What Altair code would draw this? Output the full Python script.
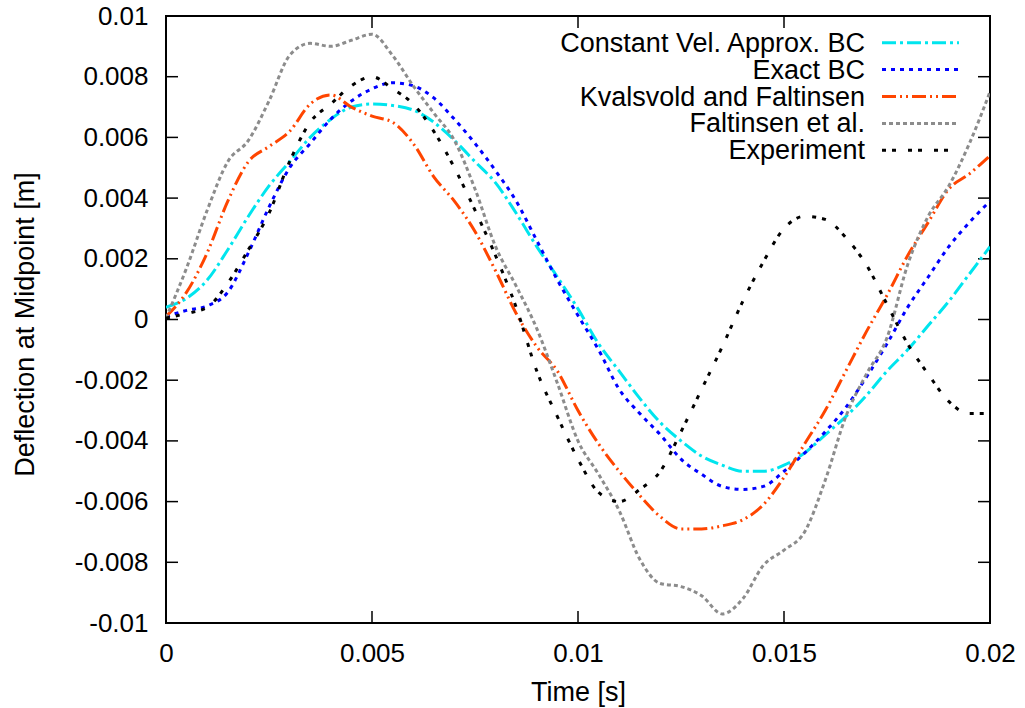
import altair as alt
import pandas as pd

# ---------------- data ----------------
time_s = [0.0, 0.0005, 0.001, 0.0015, 0.002, 0.0025, 0.003, 0.0035, 0.004, 0.0045,
          0.005, 0.0055, 0.006, 0.0065, 0.007, 0.0075, 0.008, 0.0085, 0.009, 0.0095,
          0.01, 0.0105, 0.011, 0.0115, 0.012, 0.0125, 0.013, 0.0135, 0.014, 0.0145,
          0.015, 0.0155, 0.016, 0.0165, 0.017, 0.0175, 0.018, 0.0185, 0.019, 0.0195, 0.02]

const_vel = [0.0004, 0.0007, 0.0013, 0.0023, 0.0034, 0.0044, 0.0052, 0.0060, 0.0066, 0.0070,
             0.0071, 0.00705, 0.0069, 0.0065, 0.0059, 0.0052, 0.0045, 0.0035, 0.0024, 0.0014,
             0.00035, -0.0008, -0.0017, -0.0026, -0.0034, -0.0040, -0.0045, -0.0048, -0.0050, -0.0050,
             -0.0048, -0.0044, -0.0038, -0.0032, -0.0025, -0.0017, -0.0010, -0.0002, 0.0006, 0.0015, 0.0024]

exact_bc = [0.0001, 0.0003, 0.00045, 0.0009, 0.0022, 0.0037, 0.0050, 0.0058, 0.0066, 0.0072,
            0.0076, 0.0078, 0.0077, 0.0073, 0.0066, 0.0058, 0.0049, 0.0039, 0.0026, 0.0013,
            0.00013, -0.0010, -0.0023, -0.0031, -0.0038, -0.0046, -0.0051, -0.0055, -0.0056, -0.0055,
            -0.0050, -0.0044, -0.0037, -0.0029, -0.0019, -0.0008, 0.0004, 0.0014, 0.0024, 0.0032, 0.0039]

kvalsvold = [0.0001, 0.0009, 0.0022, 0.0039, 0.0052, 0.0057, 0.0062, 0.0071, 0.0074, 0.0070,
             0.0067, 0.0065, 0.0058, 0.0047, 0.0039, 0.0029, 0.0016, 0.0002, -0.0009, -0.0017,
             -0.0030, -0.0041, -0.0050, -0.0058, -0.0065, -0.0069, -0.0069, -0.0068, -0.0066, -0.0061,
             -0.0052, -0.0041, -0.0030, -0.0017, -0.0004, 0.0008, 0.0021, 0.0032, 0.0043, 0.0048, 0.0054]

faltinsen = [0.00005, 0.0017, 0.0036, 0.0052, 0.0059, 0.0072, 0.0087, 0.0091, 0.0090, 0.0092,
             0.0094, 0.0087, 0.0077, 0.0068, 0.0059, 0.0043, 0.0024, 0.0011, -0.0003, -0.0021,
             -0.0040, -0.0051, -0.0063, -0.0079, -0.0087, -0.0088, -0.0091, -0.0097, -0.0092, -0.0081,
             -0.0076, -0.0070, -0.0053, -0.0032, -0.0018, -0.0006, 0.0018, 0.0034, 0.0044, 0.0058, 0.0075]

experiment = [0.00005, 0.0002, 0.0004, 0.0012, 0.0023, 0.0035, 0.0052, 0.0065, 0.0071, 0.0077,
              0.0080, 0.0076, 0.0071, 0.0062, 0.0050, 0.0036, 0.0021, 0.0004, -0.0017, -0.0032,
              -0.0046, -0.0057, -0.0060, -0.0056, -0.0050, -0.0037, -0.0023, -0.0009, 0.0006, 0.0019,
              0.0030, 0.0034, 0.0033, 0.0027, 0.0018, 0.0005, -0.0008, -0.0018, -0.0027, -0.0031, -0.0031]

series_names = ["Constant Vel. Approx. BC", "Exact BC", "Kvalsvold and Faltinsen",
                "Faltinsen et al.", "Experiment"]
series_values = [const_vel, exact_bc, kvalsvold, faltinsen, experiment]

x_ticks = [0, 0.005, 0.01, 0.015, 0.02]
y_ticks = [-0.01, -0.008, -0.006, -0.004, -0.002, 0, 0.002, 0.004, 0.006, 0.008, 0.01]

# ---------------- styling ----------------
colors = ["#00e5ee", "#0000ff", "#ff4500", "#8c8c8c", "#000000"]
dashes = [[14, 4, 3, 4], [4, 5], [14, 4, 2, 4, 2, 4], [4, 3], [4, 6, 4, 12]]

W, H = 824, 607
FONT = "Liberation Sans"
FS = 26          # tick labels
FS_T = 27        # titles and key
TICK = 12

xscale = alt.Scale(domain=[0, 0.02], nice=False, zero=False)
yscale = alt.Scale(domain=[-0.01, 0.01], nice=False, zero=False)
label_expr = "datum.value == 0 ? '0' : toString(round(datum.value * 1000) / 1000)"

xaxis = alt.Axis(values=x_ticks, labelExpr=label_expr, title="Time [s]", grid=False,
                 ticks=False, tickSize=0, domain=False, labelFlush=False, labelOverlap=False,
                 labelFont=FONT, labelFontSize=FS, labelColor="black", labelPadding=17,
                 titleFont=FONT, titleFontSize=FS_T, titleFontWeight="normal", titleColor="black",
                 titleBaseline="alphabetic", titleY=77)
yaxis = alt.Axis(values=y_ticks, labelExpr=label_expr, title="Deflection at Midpoint [m]",
                 grid=False, ticks=False, tickSize=0, domain=False, labelFlush=False,
                 labelOverlap=False, labelFont=FONT, labelFontSize=FS, labelColor="black",
                 labelPadding=18, titleFont=FONT, titleFontSize=FS_T, titleFontWeight="normal",
                 titleColor="black", titleBaseline="alphabetic", titleAngle=270,
                 titleX=-133, titleY=308)

layers = []

# inward ticks on all four sides
xt = pd.DataFrame({"t": x_ticks})
yt = pd.DataFrame({"v": y_ticks})
for y_a, y_b in [(H, H - TICK), (0, TICK)]:
    layers.append(alt.Chart(xt).mark_rule(color="black", strokeWidth=1.5).encode(
        x=alt.X("t:Q", scale=xscale, axis=xaxis), y=alt.value(y_a), y2=alt.value(y_b)))
for x_a, x_b in [(0, TICK), (W, W - TICK)]:
    layers.append(alt.Chart(yt).mark_rule(color="black", strokeWidth=1.5).encode(
        y=alt.Y("v:Q", scale=yscale, axis=yaxis), x=alt.value(x_a), x2=alt.value(x_b)))

# data lines
for name, vals, col, dash in zip(series_names, series_values, colors, dashes):
    d = pd.DataFrame({"t": time_s, "v": vals, "series": name})
    layers.append(alt.Chart(d).mark_line(color=col, strokeDash=dash, strokeWidth=3,
                                         interpolate="monotone", clip=True).encode(
        x=alt.X("t:Q", scale=xscale, axis=xaxis),
        y=alt.Y("v:Q", scale=yscale, axis=yaxis)))

# gnuplot-style key, top right
LEG_TEXT_X = 699
LEG_BASE_Y = 35.7
LEG_GAP = 26.9
for i, (name, col, dash) in enumerate(zip(series_names, colors, dashes)):
    dl = pd.DataFrame({"label": [name]})
    layers.append(alt.Chart(dl).mark_text(align="right", baseline="alphabetic", font=FONT,
                                          fontSize=FS_T, color="black").encode(
        text="label:N", x=alt.value(LEG_TEXT_X), y=alt.value(LEG_BASE_Y + i * LEG_GAP)))
    layers.append(alt.Chart(dl).mark_rule(color=col, strokeDash=dash, strokeWidth=3).encode(
        x=alt.value(716), x2=alt.value(793), y=alt.value(LEG_BASE_Y - 9 + i * LEG_GAP)))

chart = alt.layer(*layers).properties(
    width=W, height=H,
    padding={"left": 166, "top": 16, "right": 35, "bottom": 85},
    autosize=alt.AutoSizeParams(type="none"),
    background="white",
).configure_view(stroke="black", strokeWidth=2)

chart.save("out.html", embed_options={"renderer": "svg", "actions": False})
